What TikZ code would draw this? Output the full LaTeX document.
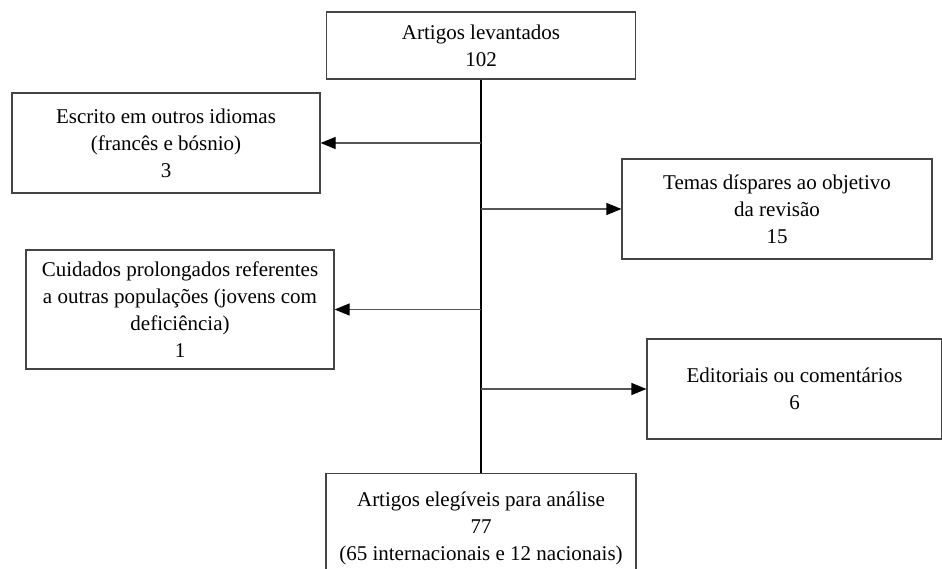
\documentclass[tikz,border=0pt]{standalone}
\usepackage{fontspec}
\setmainfont{Liberation Serif}
\usetikzlibrary{arrows.meta,positioning}
\definecolor{boxgray}{HTML}{444444}
\definecolor{linegray}{HTML}{555555}
\tikzset{
  caixa/.style={rectangle,draw=boxgray,line width=1.2pt,fill=white,minimum width=#1,
    align=center,font=\fontsize{21}{27}\selectfont,inner sep=4pt},
  caixa/.default=308pt,
  seta/.style={-{Triangle[length=15pt,width=12pt,color=black]},line width=1.2pt,draw=linegray},
  tronco/.style={line width=1.1pt,draw=black}
}

\begin{document}
\begin{tikzpicture}[x=1pt,y=-1pt]
\useasboundingbox (0,0) rectangle (942,569);
\node[caixa=309pt,minimum height=67pt] (levantados) at (481,45.5) {Artigos levantados\\102};
\node[caixa,minimum height=100pt] (idiomas) at (166,143) {Escrito em outros idiomas\\(francês e bósnio)\\3};
\node[caixa=310pt,minimum height=100pt] (temas) at (777,209) {Temas díspares ao objetivo\\da revisão\\15};
\node[caixa,minimum height=119pt] (cuidados) at (180,309.5) {Cuidados prolongados referentes\\a outras populações (jovens com\\deficiência)\\1};
\node[caixa=295pt,minimum height=100pt] (editoriais) at (794.5,389) {Editoriais ou comentários\\6};
\node[caixa=310pt,minimum height=110pt,anchor=north] (elegiveis) at (481,473) {Artigos elegíveis para análise\\77\\(65 internacionais e 12 nacionais)};

\draw[tronco] (levantados) -- (elegiveis);
\draw[seta] (idiomas.east -| levantados.south) -- (idiomas.east);
\draw[seta] (temas.west -| levantados.south) -- (temas.west);
\draw[seta] (cuidados.east -| levantados.south) -- (cuidados.east);
\draw[seta] (editoriais.west -| levantados.south) -- (editoriais.west);
\end{tikzpicture}
\end{document}
